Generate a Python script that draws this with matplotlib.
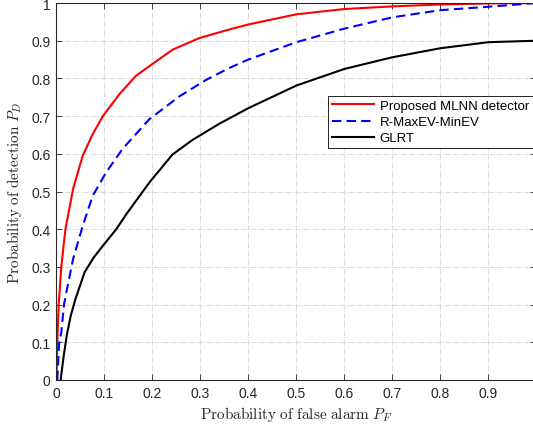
import matplotlib
matplotlib.use("Agg")
import matplotlib.pyplot as plt

plt.rcParams['mathtext.fontset'] = 'cm'
plt.rcParams['font.family'] = ['Liberation Sans', 'DejaVu Sans']

# Proposed MLNN detector
red_x = [0, 0.002, 0.005, 0.0104, 0.019, 0.035, 0.055, 0.075, 0.097, 0.132, 0.166,
         0.20, 0.242, 0.298, 0.361, 0.4, 0.5, 0.6, 0.7, 0.8, 0.9, 1.0]
red_y = [0, 0.1, 0.2, 0.30, 0.40, 0.507, 0.595, 0.65, 0.70, 0.759, 0.807,
         0.838, 0.876, 0.907, 0.930, 0.943, 0.970, 0.984, 0.991, 0.996, 0.999, 1.0]

# R-MaxEV-MinEV
blue_x = [0.002, 0.006, 0.0104, 0.016, 0.021, 0.035, 0.055, 0.076, 0.104, 0.138,
          0.194, 0.256, 0.312, 0.361, 0.4, 0.5, 0.6, 0.7, 0.8, 0.9, 1.0]
blue_y = [0, 0.1, 0.126, 0.2, 0.233, 0.321, 0.409, 0.489, 0.551, 0.613,
          0.692, 0.752, 0.796, 0.828, 0.850, 0.896, 0.932, 0.962, 0.981, 0.990, 1.0]

# GLRT
black_x = [0.009, 0.015, 0.022, 0.03, 0.04, 0.059, 0.078, 0.097, 0.125, 0.146,
           0.194, 0.242, 0.284, 0.34, 0.381, 0.4, 0.5, 0.6, 0.7, 0.8, 0.9, 1.0]
black_y = [0, 0.06, 0.12, 0.17, 0.215, 0.286, 0.325, 0.356, 0.40, 0.44,
           0.524, 0.598, 0.637, 0.680, 0.708, 0.721, 0.781, 0.825, 0.856, 0.88, 0.896, 0.90]

tick_vals = [0, 0.1, 0.2, 0.3, 0.4, 0.5, 0.6, 0.7, 0.8, 0.9, 1]
tick_labels = ['0', '0.1', '0.2', '0.3', '0.4', '0.5', '0.6', '0.7', '0.8', '0.9', '1']

fig = plt.figure(figsize=(5.33, 4.31), dpi=100)
ax = fig.add_axes([56.3/533, 50/431, 480/533, 377/431])

ax.plot(red_x, red_y, color='#ff0000', lw=1.5, label='Proposed MLNN detector')
ax.plot(blue_x, blue_y, color='#0000ff', lw=1.5, dashes=(4.5, 2.5), label='R-MaxEV-MinEV')
ax.plot(black_x, black_y, color='black', lw=1.5, label='GLRT')

ax.set_xlim(0, 1)
ax.set_ylim(0, 1)
ax.set_xticks(tick_vals)
ax.set_xticklabels(tick_labels)
ax.set_yticks(tick_vals)
ax.set_yticklabels(tick_labels)

gray = '#262626'
ax.tick_params(direction='in', length=4, width=0.6, colors=gray, labelsize=10,
               top=True, right=True, pad=4)
for s in ax.spines.values():
    s.set_color(gray)
    s.set_linewidth(0.8)

ax.grid(True, color='#d4d4d4', linestyle='-.', linewidth=0.6)
ax.set_axisbelow(True)

ax.set_xlabel(r'$\mathrm{Probability\ of\ false\ alarm}\ P_F$', fontsize=11, color=gray, labelpad=3)
ax.set_ylabel(r'$\mathrm{Probability\ of\ detection}\ P_D$', fontsize=11, color=gray, labelpad=5)

leg = ax.legend(loc='upper right', bbox_to_anchor=(0.993, 0.754), fontsize=9.5,
                frameon=True, fancybox=False, edgecolor='black', framealpha=1,
                handlelength=3.2, handletextpad=0.4, labelspacing=0.3,
                borderpad=0.3, borderaxespad=0)
leg.get_frame().set_linewidth(0.6)

fig.savefig('out.png', dpi=100)
